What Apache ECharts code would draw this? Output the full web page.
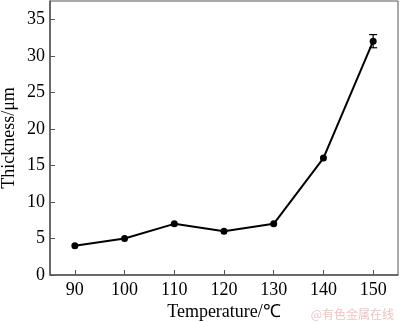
<!DOCTYPE html>
<html>
<head>
<meta charset="utf-8">
<script src="https://cdn.jsdelivr.net/npm/echarts@6/dist/echarts.min.js"></script>
<style>
  html, body { margin: 0; padding: 0; background: #fff; }
  #chart { width: 400px; height: 322px; }
</style>
</head>
<body>
<div id="chart"></div>
<script>
// Coating thickness versus treatment temperature
const temperatures = [90, 100, 110, 120, 130, 140, 150];
const thickness = [4, 5, 7, 6, 7, 16, 32];
// error bar (low, high) at the last point
const errorTemps = [150];
const errorLow = [31.1];
const errorHigh = [32.9];
const xTicks = [90, 100, 110, 120, 130, 140, 150];

const lineData = temperatures.map((t, i) => [t, thickness[i]]);
const errData = errorTemps.map((t, i) => [t, errorLow[i], errorHigh[i]]);

const font = '"Liberation Serif", "Times New Roman", serif';
const axisColor = '#555';

const chart = echarts.init(document.getElementById('chart'));
chart.setOption({
  animation: false,
  grid: {
    left: 50, right: 2, top: 1, bottom: 47,
    outerBoundsMode: 'none',
    containLabel: false,
    show: true, borderColor: axisColor, borderWidth: 1, backgroundColor: 'transparent'
  },
  xAxis: {
    type: 'value',
    min: 85, max: 155,
    name: 'Temperature/\u2103',
    nameLocation: 'middle',
    nameGap: 28,
    nameMoveOverlap: false,
    nameTextStyle: { fontFamily: font, fontSize: 18, color: '#000' },
    axisLine: { show: true, lineStyle: { color: axisColor, width: 1.5 } },
    axisTick: { show: true, inside: true, length: 5, customValues: xTicks, lineStyle: { color: axisColor } },
    axisLabel: { customValues: xTicks, fontFamily: font, fontSize: 18, color: '#000', margin: 6 },
    splitLine: { show: false }
  },
  yAxis: {
    type: 'value',
    min: 0, max: 37.5, interval: 5,
    name: 'Thickness/\u03bcm',
    nameLocation: 'middle',
    nameGap: 32,
    nameRotate: 90,
    nameMoveOverlap: false,
    nameTextStyle: { fontFamily: font, fontSize: 18, color: '#000' },
    axisLine: { show: true, lineStyle: { color: axisColor, width: 1.5 } },
    axisTick: { show: true, inside: true, length: 5, lineStyle: { color: axisColor } },
    axisLabel: {
      fontFamily: font, fontSize: 18, color: '#000', margin: 5,
      showMaxLabel: false,
      formatter: v => (v % 5 === 0 ? String(v) : '')
    },
    splitLine: { show: false }
  },
  series: [
    {
      type: 'line',
      data: lineData,
      symbol: 'circle',
      symbolSize: 7,
      itemStyle: { color: '#000' },
      lineStyle: { color: '#000', width: 2 },
      z: 3
    },
    {
      type: 'custom',
      data: errData,
      encode: { x: 0, y: [1, 2] },
      renderItem: function (params, api) {
        const x = api.value(0);
        const lo = api.coord([x, api.value(1)]);
        const hi = api.coord([x, api.value(2)]);
        const cap = 4;
        const style = { stroke: '#000', lineWidth: 1.2 };
        return {
          type: 'group',
          children: [
            { type: 'line', shape: { x1: lo[0], y1: lo[1], x2: hi[0], y2: hi[1] }, style },
            { type: 'line', shape: { x1: lo[0] - cap, y1: lo[1], x2: lo[0] + cap, y2: lo[1] }, style },
            { type: 'line', shape: { x1: hi[0] - cap, y1: hi[1], x2: hi[0] + cap, y2: hi[1] }, style }
          ]
        };
      },
      z: 2
    }
  ],
  graphic: [
    {
      type: 'text',
      right: 6,
      top: 308,
      style: {
        text: '@有色金属在线',
        fontFamily: '"Noto Sans CJK SC", sans-serif',
        fontSize: 12,
        fill: '#efc4c4'
      }
    }
  ]
});
</script>
</body>
</html>
